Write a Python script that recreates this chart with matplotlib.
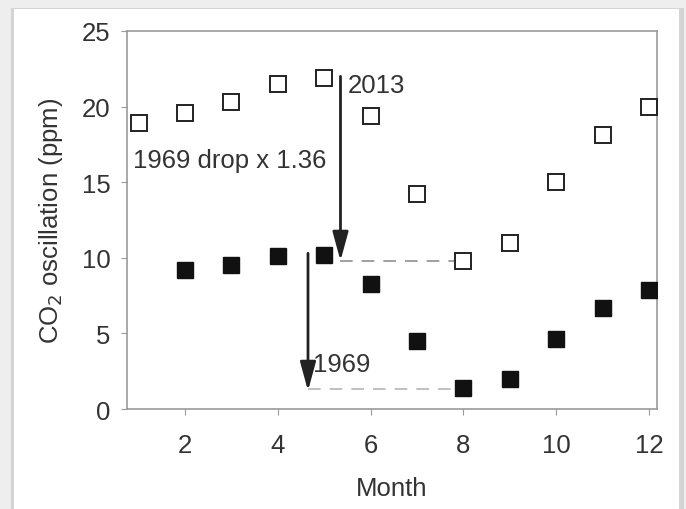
import matplotlib
matplotlib.use('Agg')
import matplotlib.pyplot as plt
from matplotlib.patches import Rectangle

# monthly CO2 oscillation (ppm)
months_2013 = [1, 2, 3, 4, 5, 6, 7, 8, 9, 10, 11, 12]
vals_2013 = [18.9, 19.6, 20.3, 21.5, 21.9, 19.4, 14.2, 9.8, 11.0, 15.0, 18.1, 20.0]
months_1969 = [2, 3, 4, 5, 6, 7, 8, 9, 10, 11, 12]
vals_1969 = [9.2, 9.5, 10.1, 10.2, 8.3, 4.5, 1.4, 2.0, 4.6, 6.7, 7.9]

x_ticks = [2, 4, 6, 8, 10, 12]
y_ticks = [0, 5, 10, 15, 20, 25]

plt.rcParams['font.family'] = ['Liberation Sans', 'DejaVu Sans']
txt = '#333333'
fs = 18.5

fig = plt.figure(figsize=(6.86, 5.10), dpi=100)
fig.patch.set_facecolor('#eeeeee')
# white card with a grey shadow round it
fig.add_artist(Rectangle((11 / 686, 0), 673 / 686, 1 - 9 / 510,
                         transform=fig.transFigure, facecolor='#d4d4d4',
                         edgecolor='none', zorder=0))
fig.add_artist(Rectangle((14 / 686, 0), 665 / 686, 1 - 10 / 510,
                         transform=fig.transFigure, facecolor='white',
                         edgecolor='none', zorder=0))

ax = fig.add_axes([127 / 686, 1 - 410 / 510, 530 / 686, 378 / 510])
ax.set_facecolor('none')

ax.plot(months_2013, vals_2013, 's', ms=12, mfc='white', mec='#222222',
        mew=1.4, zorder=3)
ax.plot(months_1969, vals_1969, 's', ms=12, mfc='#111111', mec='#111111',
        zorder=3)

# dashed reference levels
ax.plot([5.35, 8], [vals_2013[7], vals_2013[7]], ls=(0, (7, 5)),
        color='#999999', lw=1.3, zorder=2)
ax.plot([4.65, 8], [1.3, 1.3], ls=(0, (7, 5)),
        color='#bbbbbb', lw=1.3, zorder=2)

arrow = dict(arrowstyle='-|>,head_length=1.1,head_width=0.3',
             color='#222222', lw=2, shrinkA=0, shrinkB=0, mutation_scale=16)
ax.annotate('', xy=(5.35, 9.8), xytext=(5.35, 22.0), arrowprops=arrow)
ax.annotate('', xy=(4.65, 1.2), xytext=(4.65, 10.3), arrowprops=arrow)

ax.text(5.5, 21.4, '2013', fontsize=fs, color=txt, va='center')
ax.text(0.88, 16.5, '1969 drop x 1.36', fontsize=fs, color=txt, va='center')
ax.text(4.75, 3.0, '1969', fontsize=fs, color=txt, va='center')

ax.set_xlim(0.75, 12.17)
ax.set_ylim(0, 25)
ax.set_xticks(x_ticks)
ax.set_yticks(y_ticks)
for s in ax.spines.values():
    s.set_color('#999999')
    s.set_linewidth(1.2)
ax.tick_params(colors='#999999', labelcolor=txt, labelsize=fs, length=4,
               direction='out')
ax.tick_params(axis='x', pad=13)
ax.tick_params(axis='y', pad=8)
ax.set_xlabel('Month', fontsize=fs, color=txt, labelpad=14)
ax.set_ylabel('CO$_2$ oscillation (ppm)', fontsize=fs, color=txt, labelpad=12)

fig.savefig('out.png', dpi=100)
